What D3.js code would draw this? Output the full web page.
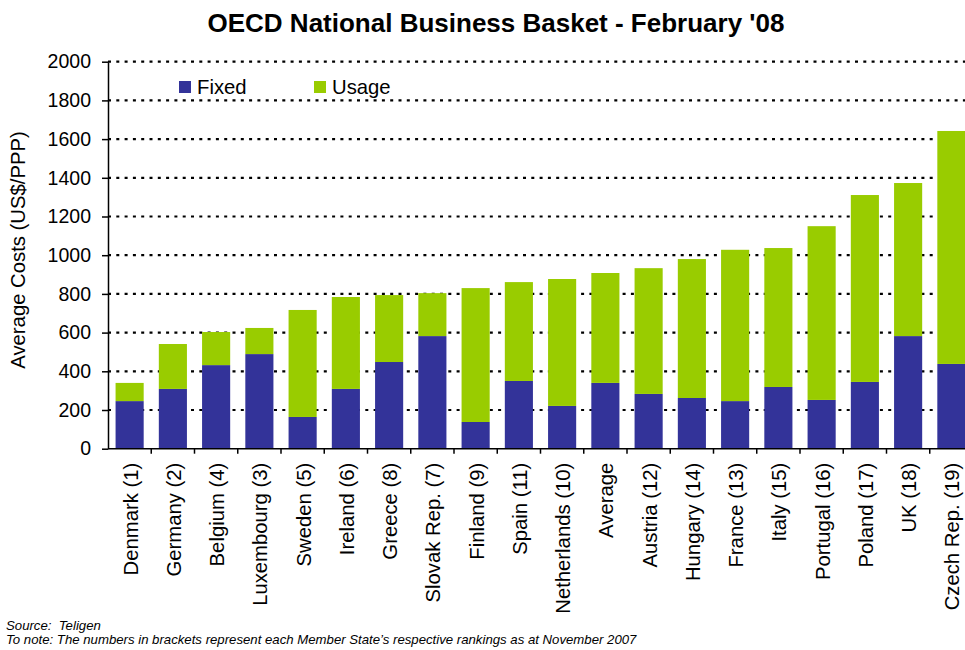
<!DOCTYPE html>
<html>
<head>
<meta charset="utf-8">
<script src="https://cdn.jsdelivr.net/npm/d3@7"></script>
<style>
  html, body { margin: 0; padding: 0; background: #fff; }
  svg { display: block; font-family: Arial, "Liberation Sans", sans-serif; }
</style>
</head>
<body>
<svg id="chart" width="965" height="650"></svg>
<script>
// Business basket costs per country (US$/PPP), Feb 2008
const categories = ["Denmark (1)", "Germany (2)", "Belgium (4)", "Luxembourg (3)", "Sweden (5)",
  "Ireland (6)", "Greece (8)", "Slovak Rep. (7)", "Finland (9)", "Spain (11)", "Netherlands (10)",
  "Average", "Austria (12)", "Hungary (14)", "France (13)", "Italy (15)", "Portugal (16)",
  "Poland (17)", "UK (18)", "Czech Rep. (19)"];
const fixed = [246, 309, 432, 489, 164, 309, 448, 582, 138, 350, 221, 340, 283, 262, 246, 319, 252, 345, 582, 438];
const total = [340, 541, 603, 624, 717, 784, 794, 804, 830, 861, 877, 908, 933, 980, 1028, 1037, 1150, 1311, 1373, 1642];
const usage = total.map((t, i) => t - fixed[i]);
const seriesNames = ["Fixed", "Usage"];
const yTicks = [0, 200, 400, 600, 800, 1000, 1200, 1400, 1600, 1800, 2000];

const colors = { Fixed: "#333399", Usage: "#99CC00" };
const labelSize = "20.3px";

const svg = d3.select("#chart");
const plotLeft = 108, plotRight = 973, plotTop = 61.7, plotBottom = 448.7;

const x = d3.scaleBand().domain(categories).range([plotLeft, plotRight]).paddingInner(0.35).paddingOuter(0.175);
const xEdges = d3.scaleBand().domain(categories).range([plotLeft, plotRight]).padding(0);
const y = d3.scaleLinear().domain([0, 2000]).range([plotBottom, plotTop]);

// Title
svg.append("text")
  .attr("x", 496).attr("y", 32)
  .attr("text-anchor", "middle")
  .style("font-size", "26px").style("font-weight", "bold")
  .text("OECD National Business Basket - February '08");

// Gridlines
svg.append("g").selectAll("line")
  .data(yTicks.filter(d => d > 0))
  .join("line")
  .attr("x1", plotLeft).attr("x2", plotRight)
  .attr("y1", d => y(d)).attr("y2", d => y(d))
  .attr("stroke", "#000").attr("stroke-width", 2.2)
  .attr("stroke-dasharray", "3,5.3");

// Stacked bars
const rows = categories.map((c, i) => ({ cat: c, Fixed: fixed[i], Usage: usage[i] }));
const stacked = d3.stack().keys(seriesNames)(rows);
svg.append("g").selectAll("g")
  .data(stacked)
  .join("g")
  .attr("fill", d => colors[d.key])
  .selectAll("rect")
  .data(d => d)
  .join("rect")
  .attr("x", d => x(d.data.cat))
  .attr("width", x.bandwidth())
  .attr("y", d => y(d[1]))
  .attr("height", d => y(d[0]) - y(d[1]));

// Y axis
const yAxis = d3.axisLeft(y).tickValues(yTicks).tickFormat(d3.format("d"))
  .tickSize(6).tickSizeOuter(0).tickPadding(11);
const gy = svg.append("g").attr("transform", `translate(${plotLeft},0)`).call(yAxis);
gy.select(".domain").attr("stroke", "#000").attr("stroke-width", 1.5);
gy.selectAll(".tick line").attr("stroke", "#000").attr("stroke-width", 1.5);
gy.selectAll(".tick text").style("font-size", "19.5px").style("font-family", "Arial, 'Liberation Sans', sans-serif").attr("fill", "#000");

// X axis baseline with separators between categories
svg.append("line")
  .attr("x1", plotLeft).attr("x2", plotRight).attr("y1", plotBottom).attr("y2", plotBottom)
  .attr("stroke", "#000").attr("stroke-width", 1.5);
svg.append("g").selectAll("line")
  .data(categories.slice(1))
  .join("line")
  .attr("x1", d => xEdges(d)).attr("x2", d => xEdges(d))
  .attr("y1", plotBottom).attr("y2", plotBottom + 5)
  .attr("stroke", "#000").attr("stroke-width", 1.5);

// Category labels, rotated
svg.append("g").selectAll("text")
  .data(categories)
  .join("text")
  .attr("transform", d => `translate(${x(d) + x.bandwidth() / 2 + 8},${plotBottom + 14}) rotate(-90)`)
  .attr("text-anchor", "end")
  .style("font-size", labelSize)
  .text(d => d);

// Y axis title
svg.append("text")
  .attr("transform", `translate(25,250) rotate(-90)`)
  .attr("text-anchor", "middle")
  .style("font-size", labelSize)
  .text("Average Costs (US$/PPP)");

// Legend
const legend = svg.append("g");
const legendPos = [{ key: "Fixed", x: 179 }, { key: "Usage", x: 314 }];
legendPos.forEach(p => {
  legend.append("rect").attr("x", p.x).attr("y", 81).attr("width", 12).attr("height", 12)
    .attr("fill", colors[p.key]);
  legend.append("text").attr("x", p.x + 18).attr("y", 94)
    .style("font-size", labelSize).text(p.key);
});

// Notes
svg.append("text").attr("x", 6).attr("y", 630)
  .style("font-size", "13.2px").style("font-style", "italic").style("white-space", "pre")
  .text("Source:  Teligen");
svg.append("text").attr("x", 6).attr("y", 644)
  .style("font-size", "13.2px").style("font-style", "italic")
  .text("To note: The numbers in brackets represent each Member State\u2019s respective rankings as at November 2007");
</script>
</body>
</html>
